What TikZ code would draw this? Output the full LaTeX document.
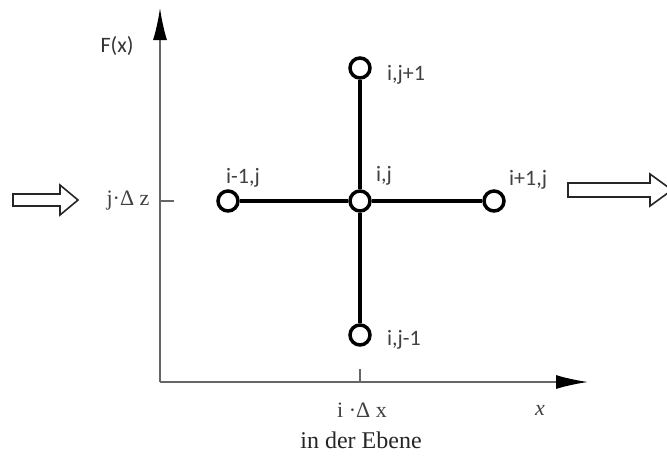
\documentclass[tikz,border=0pt]{standalone}
\usepackage{fontspec}
\setmainfont{Liberation Serif}
\newfontfamily\labelfont{Carlito}
\usetikzlibrary{arrows.meta}

\tikzset{
  gitter/.style={circle,draw,line width=3.5pt,minimum size=20pt,inner sep=0pt,fill=white},
  stab/.style={line width=4pt},
  achse/.style={gray!80!black,line width=1.6pt},
  spitze/.style={-{Latex[length=32pt,width=14pt,color=black]}},
  marke/.style={font=\labelfont\fontsize{22}{24}\selectfont,text=black!75,inner sep=0pt},
  serif/.style={font=\fontsize{22}{24}\selectfont,text=black!75,inner sep=0pt},
  hohlpfeil/.style={draw=black!85,line width=1.6pt,fill=white,line join=miter}
}

\begin{document}
\begin{tikzpicture}[x=1pt,y=-1pt]
\useasboundingbox (0,0) rectangle (667,458);

% axes
\coordinate (o) at (160,382);
\coordinate (ytop) at (160,8);
\coordinate (xend) at (588,382);
\draw[achse,spitze] (o) -- (ytop);
\draw[achse,spitze] (o) -- (xend);
\node[marke,text=black!80] (fx) at (117,46) {F(x)};

% ticks
\coordinate (yt) at (160,201);
\coordinate (yt2) at (174,201);
\draw[achse] (yt) -- (yt2);
\coordinate (xt) at (360,382);
\coordinate (xt2) at (360,369);
\draw[achse] (xt) -- (xt2);
\node[serif] (jdz) at (128,201) {j·Δ z};
\node[serif] (idx) at (362,410) {i ·Δ x};
\node[serif,font=\itshape\fontsize{22}{24}\selectfont] (xl) at (540,410) {x};
\node[serif,font=\fontsize{24}{26}\selectfont,text=black!85] (ebene) at (361,440) {in der Ebene};

% stencil
\node[gitter] (c) at (360,201) {};
\node[gitter] (l) at (228,201) {};
\node[gitter] (r) at (494,201) {};
\node[gitter] (t) at (360,68) {};
\node[gitter] (b) at (360,335) {};
\draw[stab] (c) -- (l);
\draw[stab] (c) -- (r);
\draw[stab] (c) -- (t);
\draw[stab] (c) -- (b);

\node[marke,anchor=west] (lc) at (376,176) {i,j};
\node[marke,anchor=west] (ll) at (226,178) {i-1,j};
\node[marke,anchor=west] (lr) at (509,180) {i+1,j};
\node[marke,anchor=west] (lt) at (387,75) {i,j+1};
\node[marke,anchor=west] (lb) at (387,340) {i,j-1};

% flow arrows
\draw[hohlpfeil] (13,194) -- (60,194) -- (60,185) -- (78,200) -- (60,215) -- (60,206) -- (13,206) -- cycle;
\draw[hohlpfeil] (568,183) -- (650,183) -- (650,174) -- (672,190) -- (650,206) -- (650,197) -- (568,197) -- cycle;
\end{tikzpicture}
\end{document}
